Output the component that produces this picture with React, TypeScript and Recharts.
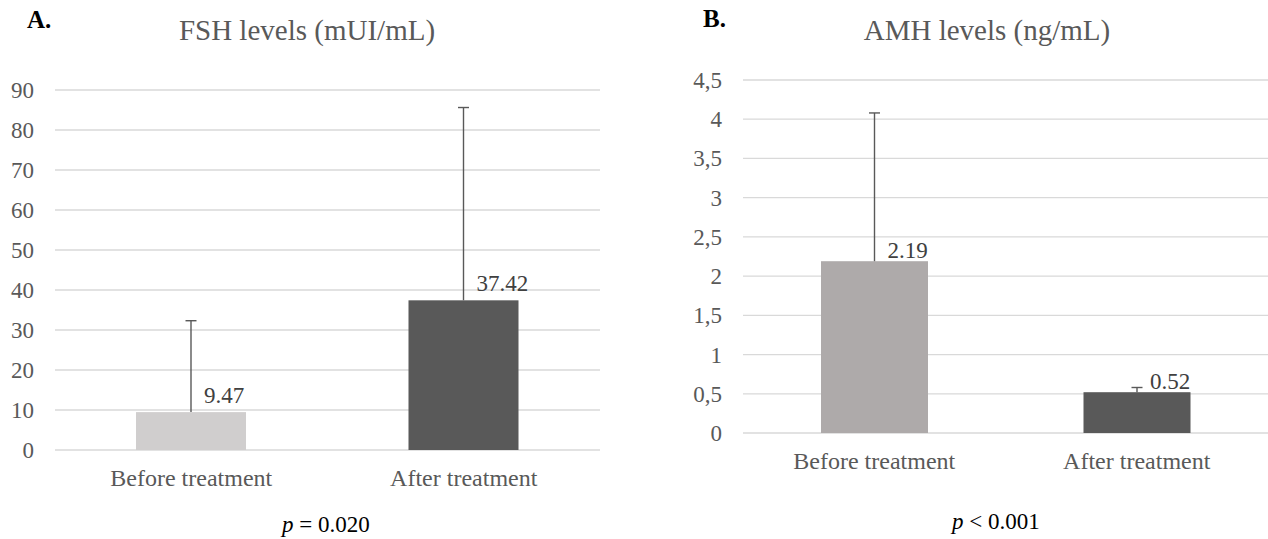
import { Bar, BarChart, CartesianGrid, Cell, LabelList, XAxis, YAxis } from 'recharts';

// Two panels: mean levels before / after treatment, upper SD whisker only.
const categories = ['Before treatment', 'After treatment'];

const fshMeans = [9.47, 37.42];
const fshSd = [22.85, 48.2];
const fshTicks = [0, 10, 20, 30, 40, 50, 60, 70, 80, 90];

const amhMeans = [2.19, 0.52];
const amhSd = [1.89, 0.06];
const amhTicks = [0, 0.5, 1, 1.5, 2, 2.5, 3, 3.5, 4, 4.5];

const FONT = '"Liberation Serif", "Times New Roman", serif';
const TEXT_GREY = '#595959';
const GRID = '#d9d9d9';
const WHISKER = '#595959';

type Row = { name: string; mean: number; sd: number };

function rows(means: number[], sds: number[]): Row[] {
  return categories.map((name, i) => ({ name, mean: means[i], sd: sds[i] }));
}

// Bar rect plus an upward-only error whisker; the px-per-unit ratio comes
// from the bar's own height so it follows the y scale.
function BarWithWhisker(props: any) {
  const { x, y, width, height, fill, payload } = props;
  const k = payload.mean ? height / payload.mean : 0;
  const top = y - payload.sd * k;
  const cx = x + width / 2;
  return (
    <g>
      <rect x={x} y={y} width={width} height={height} fill={fill} />
      <line x1={cx} x2={cx} y1={y} y2={top} stroke={WHISKER} strokeWidth={1.4} />
      <line x1={cx - 5.5} x2={cx + 5.5} y1={top} y2={top} stroke={WHISKER} strokeWidth={1.4} />
    </g>
  );
}

function valueLabel(lift: number) {
  return (props: any) => {
    const { x, y, width, value } = props;
    return (
      <text
        x={Number(x) + Number(width) / 2 + 13}
        y={Number(y) - lift}
        textAnchor="start"
        style={{ fontFamily: FONT, fontSize: 23, fill: '#404040' }}
      >
        {value}
      </text>
    );
  };
}

function XTick(props: any) {
  const { x, y, payload } = props;
  return (
    <text
      x={x}
      y={Number(y) + 17}
      textAnchor="middle"
      style={{ fontFamily: FONT, fontSize: 24, fill: TEXT_GREY }}
    >
      {payload.value}
    </text>
  );
}

function yTick(fmt: (v: number) => string) {
  return (props: any) => {
    const { x, y, payload } = props;
    return (
      <text
        x={x}
        y={Number(y) + 8}
        textAnchor="end"
        style={{ fontFamily: FONT, fontSize: 23, fill: TEXT_GREY }}
      >
        {fmt(payload.value)}
      </text>
    );
  };
}

type PanelProps = {
  data: Row[];
  colors: string[];
  ticks: number[];
  max: number;
  width: number;
  left: number;
  top: number;
  bottom: number;
  barSize: number;
  lift: number;
  fmt: (v: number) => string;
};

function Panel({ data, colors, ticks, max, width, left, top, bottom, barSize, lift, fmt }: PanelProps) {
  return (
    <div style={{ position: 'absolute', left, top: 0, fontFamily: FONT }}>
      <BarChart
        width={width}
        height={539}
        data={data}
        margin={{ top, right: 0, bottom, left: 0 }}
        barSize={barSize}
      >
        <CartesianGrid vertical={false} stroke={GRID} strokeWidth={1.3} />
        <XAxis
          dataKey="name"
          height={30}
          axisLine={false}
          tickLine={false}
          tickMargin={13}
          tick={<XTick />}
        />
        <YAxis
          width={55}
          domain={[0, max]}
          ticks={ticks}
          interval={0}
          axisLine={false}
          tickLine={false}
          tickMargin={15}
          tick={yTick(fmt)}
        />
        <Bar dataKey="mean" shape={BarWithWhisker} isAnimationActive={false}>
          {data.map((d, i) => (
            <Cell key={d.name} fill={colors[i]} />
          ))}
          <LabelList dataKey="mean" content={valueLabel(lift)} />
        </Bar>
      </BarChart>
    </div>
  );
}

export default function App() {
  const fsh = rows(fshMeans, fshSd);
  const amh = rows(amhMeans, amhSd);

  return (
    <div style={{ position: 'absolute', left: 0, top: 0, width: 1268, height: 539, background: '#fff', overflow: 'hidden' }}>
      <Panel
        data={fsh}
        colors={['#d0cece', '#595959']}
        ticks={fshTicks}
        max={90}
        width={600}
        left={0}
        top={90}
        bottom={59}
        barSize={110}
        lift={9}
        fmt={(v) => String(v)}
      />
      <Panel
        data={amh}
        colors={['#aeaaaa', '#595959']}
        ticks={amhTicks}
        max={4.5}
        width={580}
        left={688}
        top={80}
        bottom={76}
        barSize={107}
        lift={3}
        fmt={(v) => String(v).replace('.', ',')}
      />

      <svg width={1268} height={539} style={{ position: 'absolute', left: 0, top: 0, pointerEvents: 'none', fontFamily: FONT }}>
        <text x={27} y={28} style={{ fontFamily: FONT, fontSize: 25, fontWeight: 'bold', fill: '#000' }}>A.</text>
        <text x={703} y={27} style={{ fontFamily: FONT, fontSize: 25, fontWeight: 'bold', fill: '#000' }}>B.</text>

        <text x={307} y={40} textAnchor="middle" style={{ fontFamily: FONT, fontSize: 29, fill: TEXT_GREY }}>
          FSH levels (mUI/mL)
        </text>
        <text x={987} y={40} textAnchor="middle" style={{ fontFamily: FONT, fontSize: 29, fill: TEXT_GREY }}>
          AMH levels (ng/mL)
        </text>

        <text x={282} y={532} style={{ fontFamily: FONT, fontSize: 23, fill: '#000' }}>
          <tspan fontStyle="italic">p</tspan> = 0.020
        </text>
        <text x={952} y={529} style={{ fontFamily: FONT, fontSize: 23, fill: '#000' }}>
          <tspan fontStyle="italic">p</tspan> &lt; 0.001
        </text>
      </svg>
    </div>
  );
}
